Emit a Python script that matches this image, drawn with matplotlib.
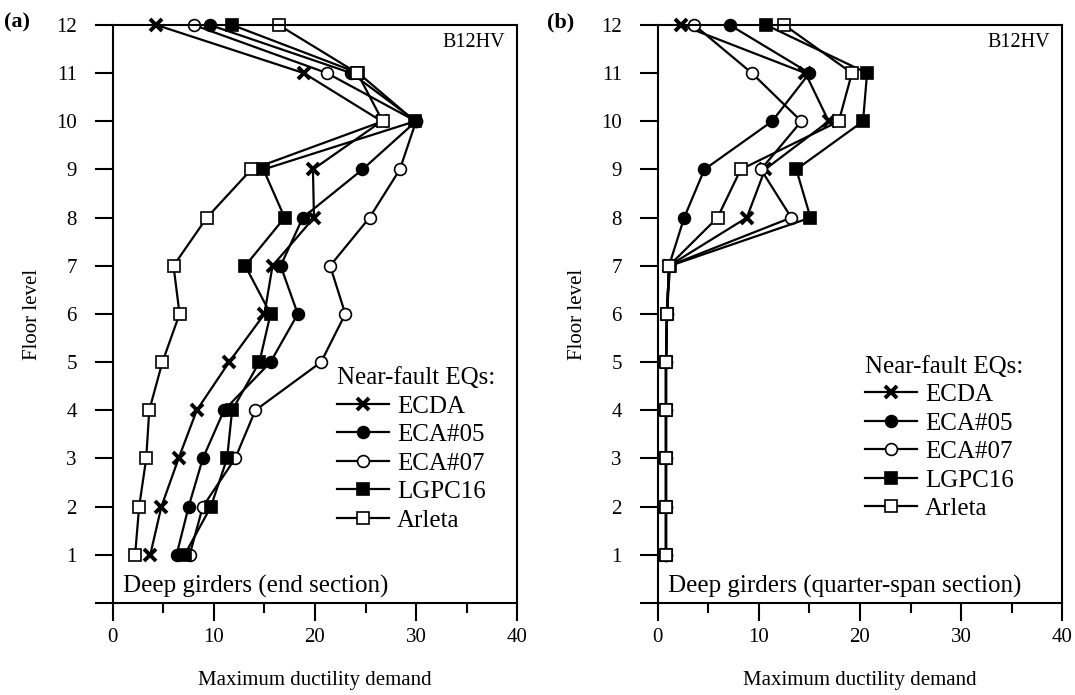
import numpy as np
import matplotlib
matplotlib.use('Agg')
import matplotlib.pyplot as plt

plt.rcParams['font.family'] = ['Liberation Serif', 'DejaVu Serif']
plt.rcParams['mathtext.fontset'] = 'stix'

floors = [1, 2, 3, 4, 5, 6, 7, 8, 9, 10, 11, 12]
names = ['ECDA', 'ECA#05', 'ECA#07', 'LGPC16', 'Arleta']

# (a) end section
end_ecda = [3.7, 4.8, 6.5, 8.3, 11.5, 15.0, 15.8, 19.9, 19.8, 26.6, 18.9, 4.3]
end_eca05 = [6.3, 7.5, 8.9, 11.0, 15.6, 18.3, 16.6, 18.8, 24.7, 30.0, 23.6, 9.6]
end_eca07 = [7.6, 8.9, 12.1, 14.1, 20.6, 23.0, 21.5, 25.4, 28.4, 30.0, 21.2, 8.0]
end_lgpc16 = [7.1, 9.7, 11.3, 11.8, 14.5, 15.6, 13.1, 17.0, 14.9, 29.9, 24.3, 11.8]
end_arleta = [2.2, 2.6, 3.3, 3.6, 4.9, 6.6, 6.0, 9.3, 13.7, 26.7, 24.2, 16.4]

# (b) quarter-span section
qs_ecda = [0.8, 0.8, 0.8, 0.8, 0.8, 0.9, 1.1, 8.8, 10.6, 16.9, 14.6, 2.3]
qs_eca05 = [0.8, 0.8, 0.8, 0.8, 0.8, 0.9, 1.1, 2.6, 4.6, 11.3, 15.0, 7.1]
qs_eca07 = [0.8, 0.8, 0.8, 0.8, 0.8, 0.9, 1.1, 13.2, 10.2, 14.2, 9.3, 3.6]
qs_lgpc16 = [0.8, 0.8, 0.8, 0.8, 0.8, 0.9, 1.2, 15.1, 13.7, 20.3, 20.7, 10.7]
qs_arleta = [0.8, 0.8, 0.8, 0.8, 0.8, 0.9, 1.1, 5.9, 8.2, 17.9, 19.2, 12.5]

styles = [dict(marker='x', mew=2.8, ms=8.5, mfc='k'),
          dict(marker='o', mew=1.2, ms=8.5, mfc='k'),
          dict(marker='o', mew=1.2, ms=8.5, mfc='white'),
          dict(marker='s', mew=1.2, ms=8.5, mfc='k'),
          dict(marker='s', mew=1.2, ms=8.5, mfc='white')]

fs_tick = 15
fs_big = 18

fig = plt.figure(figsize=(10.75, 6.95), dpi=100)
ax1 = fig.add_axes([0.105, 0.1324, 0.376, 0.8317])
ax2 = fig.add_axes([0.612, 0.1324, 0.376, 0.8317])

panels = [
    (ax1, [end_ecda, end_eca05, end_eca07, end_lgpc16, end_arleta],
     'Deep girders (end section)', (0.554, 0.408), '(a)', 0.004),
    (ax2, [qs_ecda, qs_eca05, qs_eca07, qs_lgpc16, qs_arleta],
     'Deep girders (quarter-span section)', (0.512, 0.428), '(b)', 0.509),
]

for ax, series, note, leg_pos, tag, tag_x in panels:
    handles = []
    for vals, name, st in zip(series, names, styles):
        h, = ax.plot(vals, floors, color='k', lw=1.6, mec='k', label=name,
                     clip_on=False, **st)
        handles.append(h)
    ax.set_xlim(0, 40)
    ax.set_ylim(0, 12)
    ax.set_xticks([0, 10, 20, 30, 40])
    ax.set_xticks([5, 15, 25, 35], minor=True)
    ax.set_yticks(range(0, 13))
    ax.set_yticklabels([''] + [str(i) for i in range(1, 13)])
    ax.tick_params(axis='both', which='major', direction='out', length=13,
                   width=1.5, labelsize=fs_tick)
    ax.tick_params(axis='y', which='major', pad=13)
    ax.tick_params(axis='x', which='major', pad=5)
    ax.tick_params(axis='x', which='minor', direction='out', length=7.5, width=1.5)
    for sp in ax.spines.values():
        sp.set_linewidth(1.5)
    ax.set_xlabel('Maximum ductility demand', fontsize=fs_tick, labelpad=17)
    ax.set_ylabel('Floor level', fontsize=fs_tick, labelpad=10)
    ax.text(0.97, 0.97, 'B12HV', transform=ax.transAxes, ha='right', va='center',
            fontsize=14.5)
    ax.text(0.025, 0.028, note, transform=ax.transAxes, ha='left', va='center',
            fontsize=fs_big)
    leg = ax.legend(handles=handles, loc='upper left', bbox_to_anchor=leg_pos,
                    frameon=False, fontsize=fs_big, title='Near-fault EQs:',
                    title_fontsize=fs_big, alignment='left', borderpad=0,
                    borderaxespad=0, handlelength=2.1, handletextpad=0.3,
                    labelspacing=0.24)
    fig.text(tag_x, 0.967, tag, fontsize=16, fontweight='bold', ha='left', va='center')

plt.savefig('out.png', dpi=100)
